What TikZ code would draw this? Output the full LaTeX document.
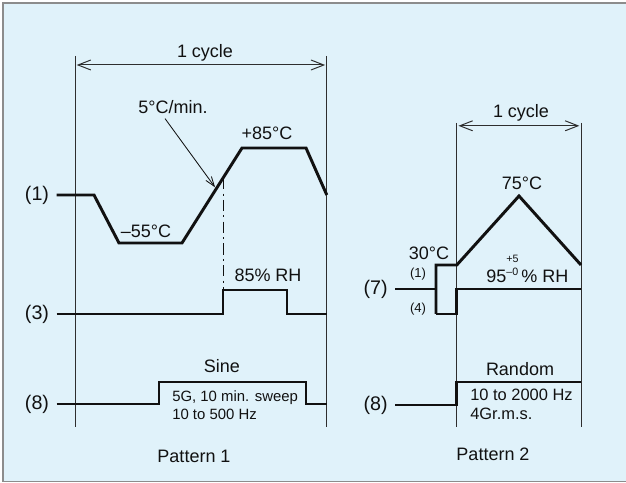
\documentclass[tikz,border=0pt]{standalone}
\usepackage{fontspec}
\setmainfont{Liberation Sans}
\usepackage{xcolor}
\usepackage{tikz}
\usetikzlibrary{arrows.meta,positioning,calc}
\definecolor{cycInk}{HTML}{111111}
\definecolor{cycRule}{HTML}{2E2E2E}
\definecolor{cycFrame}{HTML}{8C8C8C}
\definecolor{cycPanel}{HTML}{E0F2FA}
\tikzset{
  % Shared profile-sheet contract.  Thin rules bound one cycle, heavy
  % traces carry each stress channel; the grid is 40 px to the centimetre.
  cyc/base/.style={
    font=\fontsize{12.8pt}{14pt}\selectfont,
    text=cycInk,
    line cap=butt,
    line join=miter,
    >=Stealth
  },
  cyc/label/.style={
    font=\fontsize{12.8pt}{14pt}\selectfont,
    text=cycInk,
    inner sep=0pt
  },
  cyc/row label/.style={
    font=\fontsize{14pt}{15pt}\selectfont,
    text=cycInk,
    anchor=east,
    inner sep=0pt
  },
  cyc/tiny label/.style={
    font=\fontsize{9.3pt}{10pt}\selectfont,
    text=cycInk,
    inner sep=0pt
  },
  cyc/note/.style={
    text=cycInk,
    align=left,
    anchor=north west,
    inner sep=0pt
  },
  cyc/cycle rule/.style={
    draw=cycRule,
    line width=.7pt
  },
  cyc/cycle span/.style={
    {Straight Barb[length=3.2mm,width=2.5mm]}-{Straight Barb[length=3.2mm,width=2.5mm]},
    draw=cycRule,
    line width=.7pt,
    shorten <=1.2pt,
    shorten >=1.2pt
  },
  cyc/pointer/.style={
    -{Straight Barb[length=2.4mm,width=1.7mm]},
    draw=cycInk,
    line width=.6pt
  },
  cyc/trace/.style={
    draw=cycInk,
    line width=2.1pt
  },
  cyc/marker/.style={
    draw=cycInk,
    line width=.7pt,
    dash pattern=on 8pt off 3pt on 1.5pt off 3pt
  }
}

\begin{document}
\begin{tikzpicture}[
  cyc/base,x=1cm,y=1cm,
  label/.style={cyc/label},
  row label/.style={cyc/row label},
  tiny label/.style={cyc/tiny label},
  rule/.style={cyc/cycle rule},
  span/.style={cyc/cycle span},
  trace/.style={cyc/trace}
]
  \path[use as bounding box] (0,0) rectangle (15.65,12.075);
  \draw[draw=cycFrame,fill=cycPanel,line width=1.1pt] (.075,.04) rectangle (15.95,12.0);

  % (1) Pattern 1: thermal cycle, humidity step and sine sweep.
  \foreach \side/\xx in {L/1.875,R/8.17} {
    \coordinate (oneTop-\side) at (\xx,10.675);
    \draw[rule] (oneTop-\side)--(\xx,1.40);
  }
  \draw[span] ([yshift=-.225cm]oneTop-L)--([yshift=-.225cm]oneTop-R);
  \node[label,anchor=base] (oneCycle) at (5.125,10.643) {1 cycle};

  \node[row label] (rowOne) at (1.233,7.2) {(1)};
  \coordinate (oneLow-R) at (4.55,6.0);
  \coordinate (oneHigh-L) at (6.05,8.375);
  \draw[trace] (1.418,7.2)--(2.35,7.2)--(2.975,6.0)--(oneLow-R)
    --(oneHigh-L)--(7.65,8.375)--(8.17,7.2);
  \node[label,anchor=base] (coldLabel) at (3.65,6.142) {–55°C};
  \node[label,anchor=base] (hotLabel) at (6.675,8.575) {+85°C};
  \node[label,anchor=base] (rateLabel) at (4.325,9.242) {5°C/min.};
  \coordinate (rateTip) at ($(oneLow-R)!.57!(oneHigh-L)$);
  \draw[cyc/pointer,shorten >=1.4pt]
    ([xshift=-.2cm,yshift=-.12cm]rateLabel.south)--(rateTip);

  \node[row label] (rowThree) at (1.233,4.225) {(3)};
  \coordinate (humStep) at (5.575,4.825);
  \draw[trace] (1.418,4.225)--(5.575,4.225)--(humStep)--(7.175,4.825)
    --(7.175,4.225)--(8.17,4.225);
  \node[label,anchor=base] (humLabel) at (6.7,5.025) {85\% RH};
  % RH switches on when the ramp passes this point.
  \coordinate (oneTurn) at ($(oneLow-R)!.6833!(oneHigh-L)$);
  \draw[cyc/marker] (oneTurn)--(oneTurn |- humStep);

  \node[row label] (rowEightA) at (1.233,1.975) {(8)};
  \draw[trace] (1.418,1.975)--(3.975,1.975)--(3.975,2.525)--(7.65,2.525)
    --(7.65,1.975)--(8.17,1.975);
  \node[label,anchor=base] (sineLabel) at (5.55,2.758) {Sine};
  \node[cyc/note,font=\fontsize{10.6pt}{12.5pt}\selectfont] (sineNote)
    at (4.3,2.31) {5G, 10 min. sweep\\10 to 500 Hz};
  \node[label,anchor=base] (patternOne) at (4.85,.517) {Pattern 1};

  % (2) Pattern 2: damp-heat triangle and random vibration.
  \foreach \side/\xx in {L/11.42,R/14.525} {
    \coordinate (twoTop-\side) at (\xx,9.0);
    \draw[rule] (twoTop-\side)--(\xx,1.40);
  }
  \draw[span] ([yshift=-.07cm]twoTop-L)--([yshift=-.07cm]twoTop-R);
  \node[label,anchor=base] (twoCycle) at (13.025,9.133) {1 cycle};

  \node[row label] (rowSeven) at (9.70,4.85) {(7)};
  \coordinate (boxTop) at (10.9,5.45);
  \coordinate (boxFoot) at (10.9,4.225);
  \draw[trace] (9.875,4.85)--(10.9,4.85);
  \draw[trace] (boxFoot)--(boxTop)--(11.42,5.45)--(12.975,7.175)--(14.525,5.45);
  \draw[trace] (boxFoot)--(11.42,4.225)--(11.42,4.85)--(14.525,4.85);
  \node[label,anchor=base] (warmLabel) at (10.725,5.575) {30°C};
  \node[label,anchor=base] (peakLabel) at (13.05,7.325) {75°C};
  \node[tiny label] (boxOne) at (10.45,5.233) {(1)};
  \node[tiny label] (boxFour) at (10.45,4.35) {(4)};
  \node[label,anchor=base west] (dampLabel) at (12.15,5.008)
    {95\raisebox{.75ex}{\fontsize{7.6pt}{8pt}\selectfont\shortstack{+5\\[1pt]–0}}\,\% RH};

  \node[row label] (rowEightB) at (9.70,1.95) {(8)};
  \draw[trace] (9.875,1.95)--(11.42,1.95)--(11.42,2.525)--(14.525,2.525);
  \node[label,anchor=base] (randomLabel) at (13.0,2.683) {Random};
  \node[cyc/note,font=\fontsize{11.7pt}{13pt}\selectfont] (randomNote)
    at (11.75,2.345) {10 to 2000 Hz\\4Gr.m.s.};
  \node[label,anchor=base] (patternTwo) at (12.325,.558) {Pattern 2};
\end{tikzpicture}
\end{document}
